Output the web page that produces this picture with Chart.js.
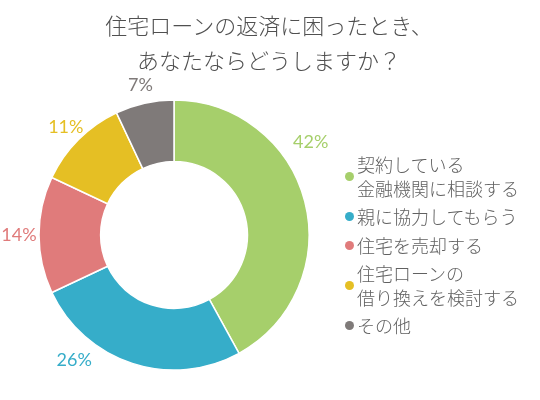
<!DOCTYPE html>
<html>
<head>
<meta charset="utf-8">
<script src="https://cdn.jsdelivr.net/npm/chart.js@4"></script>
<style>
  html, body { margin:0; padding:0; background:#fff; }
  #wrap { position:relative; width:540px; height:400px; overflow:hidden; }
  #c { position:absolute; left:0; top:0; }
  #title { position:absolute; left:0; top:7px; width:538px; text-align:center;
    font-family:"Noto Sans CJK JP","Noto Sans",sans-serif; font-weight:300; font-size:22px;
    line-height:35px; color:#505050; }
  #legend { position:absolute; left:345px; top:153px; margin:0; padding:0; list-style:none;
    font-family:"Noto Sans CJK JP","Noto Sans",sans-serif; font-weight:300; font-size:18px;
    line-height:23.5px; color:#616161; }
  #legend li { display:flex; align-items:center; margin-bottom:5px; }
  #legend .dot { width:9px; height:9px; border-radius:50%; margin-right:3px; flex:none; }
</style>
</head>
<body>
<div id="wrap">
  <canvas id="c" width="540" height="400"></canvas>
  <div id="title">住宅ローンの返済に困ったとき、<br>あなたならどうしますか？</div>
  <ul id="legend"></ul>
</div>
<script>
const categories = [
  ["契約している", "金融機関に相談する"],
  ["親に協力してもらう"],
  ["住宅を売却する"],
  ["住宅ローンの", "借り換えを検討する"],
  ["その他"]
];
const values = [42, 26, 14, 11, 7];
const colors = ["#a6cf6b", "#36adc9", "#e07b7b", "#e5bf24", "#7f7a79"];

const labelPlacement = [
  { frac: 0.37, extra: 30 },
  { frac: 0.72, extra: 25 },
  { frac: 0.5, extra: 20 },
  { frac: 0.5, extra: 18 },
  { frac: 0.5, extra: 19 }
];

const outsideLabels = {
  id: 'outsideLabels',
  afterDatasetsDraw(chart) {
    const ctx = chart.ctx;
    const meta = chart.getDatasetMeta(0);
    ctx.save();
    ctx.font = '400 18px "Lato", "Open Sans", sans-serif';
    ctx.textAlign = 'center';
    ctx.textBaseline = 'middle';
    meta.data.forEach((arc, i) => {
      const p = arc.getProps(['x','y','startAngle','endAngle','outerRadius'], true);
      const pl = labelPlacement[i];
      const a = p.startAngle + (p.endAngle - p.startAngle) * pl.frac;
      const r = p.outerRadius + pl.extra;
      ctx.fillStyle = colors[i];
      ctx.fillText(values[i] + '%', p.x + Math.cos(a) * r, p.y + Math.sin(a) * r);
    });
    ctx.restore();
  }
};

const chart = new Chart(document.getElementById('c'), {
  type: 'doughnut',
  data: {
    labels: categories,
    datasets: [{
      data: values,
      backgroundColor: colors,
      borderColor: '#ffffff',
      borderWidth: 1.5,
      hoverOffset: 0
    }]
  },
  options: {
    responsive: false,
    animation: false,
    radius: 135,
    cutout: 73,
    layout: { padding: { left: 0, right: 192, top: 100, bottom: 30 } },
    plugins: {
      legend: { display: false },
      title: { display: false },
      tooltip: { enabled: false }
    }
  },
  plugins: [outsideLabels]
});

const legendEl = document.getElementById('legend');
chart.data.labels.forEach((lab, i) => {
  const li = document.createElement('li');
  const dot = document.createElement('span');
  dot.className = 'dot';
  dot.style.background = chart.data.datasets[0].backgroundColor[i];
  const txt = document.createElement('span');
  txt.innerHTML = lab.join('<br>');
  li.appendChild(dot);
  li.appendChild(txt);
  legendEl.appendChild(li);
});
</script>
</body>
</html>
